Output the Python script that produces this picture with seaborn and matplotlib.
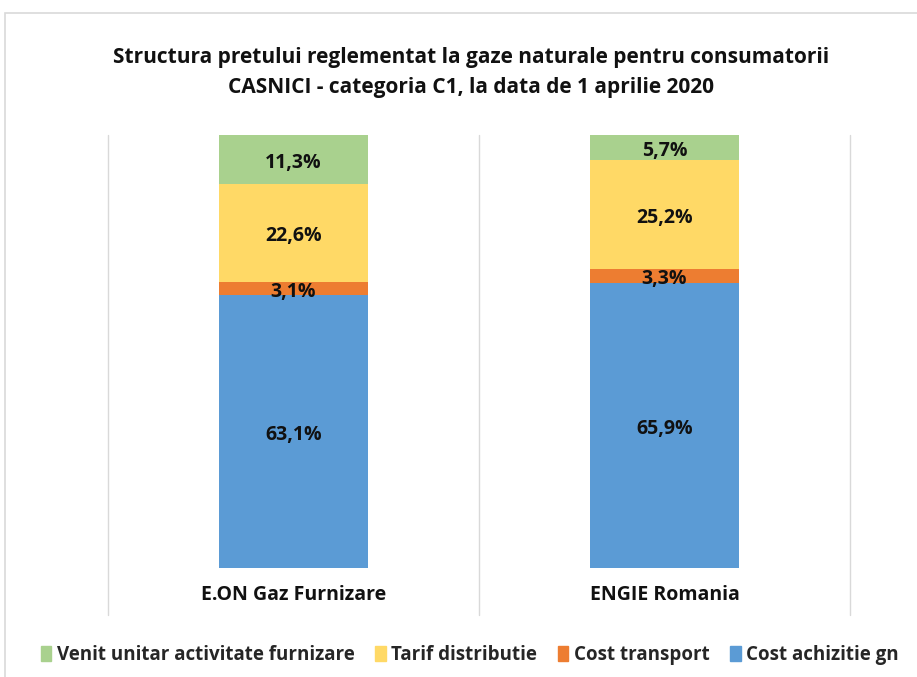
import numpy as np
import pandas as pd
import matplotlib.pyplot as plt
import seaborn as sns
from matplotlib.patches import Rectangle, Patch

companies = ["E.ON Gaz Furnizare", "ENGIE Romania"]
series = ["Cost achizitie gn", "Cost transport", "Tarif distributie", "Venit unitar activitate furnizare"]
achizitie = [63.1, 65.9]
transport = [3.1, 3.3]
distributie = [22.6, 25.2]
venit = [11.3, 5.7]
colors = ["#5B9BD5", "#ED7D31", "#FFD966", "#A9D18E"]

sns.set_style("white")
plt.rcParams["font.family"] = ["Open Sans", "DejaVu Sans"]

df = pd.DataFrame({"Firma": companies, series[0]: achizitie, series[1]: transport,
                   series[2]: distributie, series[3]: venit}).set_index("Firma")
share = df.div(df.sum(axis=1), axis=0)
cum = share.cumsum(axis=1)

fig = plt.figure(figsize=(9.17, 6.77), dpi=100)
ax = fig.add_axes([108/917, 1 - 568/677, (850-108)/917, (568-135)/677])

# draw layers from the top cumulative down so lower ones overlap
for i in range(len(series) - 1, -1, -1):
    d = pd.DataFrame({"Firma": companies, "v": cum.iloc[:, i].values})
    sns.barplot(data=d, x="Firma", y="v", color=colors[i], width=0.4,
                saturation=1, ax=ax, linewidth=0)

for j in range(len(companies)):
    for i, s in enumerate(series):
        top = cum.iloc[j, i]
        h = share.iloc[j, i]
        val = df.iloc[j, i]
        ax.text(j, top - h / 2 - 0.008, f"{val:.1f}%".replace(".", ","), ha="center", va="center",
                fontsize=14, fontweight="bold", color="#111111")

ax.set_xlim(-0.5, 1.5)
ax.set_ylim(0, 1)
ax.set_xlabel("")
ax.set_ylabel("")
ax.set_yticks([])
ax.set_xticks([])
for sp in ax.spines.values():
    sp.set_visible(False)
for x in [-0.5, 0.5, 1.5]:
    ax.axvline(x, ymin=-47/433, ymax=1, color="#D9D9D9", lw=1, clip_on=False, zorder=0)
for j, c in enumerate(companies):
    ax.text(j, -27/433, c, transform=ax.get_xaxis_transform(), ha="center", va="center",
            fontsize=14, fontweight="bold", color="#111111")

fig.text(471/917, 1 - 57/677, "Structura pretului reglementat la gaze naturale pentru consumatorii",
         ha="center", va="center", fontsize=15, fontweight="bold", color="#111111")
fig.text(471/917, 1 - 88/677, "CASNICI - categoria C1, la data de 1 aprilie 2020",
         ha="center", va="center", fontsize=15, fontweight="bold", color="#111111")

handles = [Patch(color=colors[i], label=series[i]) for i in [3, 2, 1, 0]]
leg = fig.legend(handles=handles, loc="center", bbox_to_anchor=(470/917, 1 - 655/677), ncol=4,
                 frameon=False, handlelength=0.55, handleheight=0.85, handletextpad=0.3,
                 columnspacing=1.1, prop={"size": 13.5, "weight": "bold"})

fig.patches.append(Rectangle((5/917, -0.1), 1.2, 1 - 13/677 + 0.1, transform=fig.transFigure,
                             fill=False, edgecolor="#D9D9D9", lw=1.2))

fig.savefig("out.png", dpi=100)
